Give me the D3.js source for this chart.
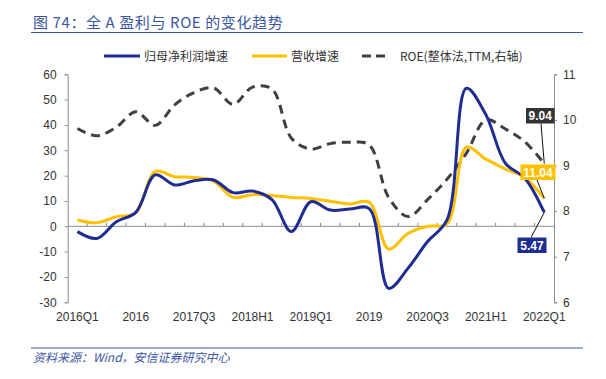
<!DOCTYPE html>
<html><head><meta charset="utf-8">
<script src="https://cdn.jsdelivr.net/npm/d3@7"></script>
<style>
html,body{margin:0;padding:0;background:#fff;}
svg{display:block;}
</style></head>
<body><svg id="c" width="606" height="379"></svg>
<script>
const categories = ["2016Q1","2016Q2","2016Q3","2016Q4","2017Q1","2017Q2","2017Q3","2017Q4","2018Q1","2018Q2","2018Q3","2018Q4","2019Q1","2019Q2","2019Q3","2019Q4","2020Q1","2020Q2","2020Q3","2020Q4","2021Q1","2021Q2","2021Q3","2021Q4","2022Q1"];
const xTickLabels = ["2016Q1","","","2016","","","2017Q3","","","2018H1","","","2019Q1","","","2019","","","2020Q3","","","2021H1","","","2022Q1"];
const profitGrowth = [-2.1,-4.8,1.8,5.5,20.3,16.3,18.0,18.3,13.3,13.9,10.5,-2.1,9.7,6.4,6.8,7.0,-24.5,-16.5,-6.0,2.5,54.5,44.0,24.9,19.0,5.47];
const revenueGrowth = [2.5,1.4,3.8,5.3,21.6,19.6,19.3,17.8,11.4,12.5,12.2,11.4,11.0,9.9,8.8,9.5,-9.0,-2.8,0.0,1.0,31.2,26.5,22.6,19.3,11.04];
const roe = [9.81,9.65,9.84,10.18,9.88,10.33,10.6,10.7,10.34,10.72,10.68,9.6,9.36,9.48,9.51,9.45,8.3,7.88,8.25,8.7,9.27,10.0,9.8,9.52,9.04];
const leftTicks = [-30,-20,-10,0,10,20,30,40,50,60];
const rightTicks = [6,7,8,9,10,11];
const seriesNames = ["归母净利润增速","营收增速","ROE(整体法,TTM,右轴)"];
const titleText = "图 74：全 A 盈利与 ROE 的变化趋势";
const sourceText = "资料来源：Wind，安信证券研究中心";

const BLUE = "#1F2D93", YELLOW = "#FFC000", GREY = "#404040", AXIS = "#8c8c8c";
const svg = d3.select("#c");
const L = 67.7, R = 554, T = 74.3, B = 302.3;

const x = d3.scaleBand().domain(categories).range([L, R]).padding(0);
const cx = d => x(d) + x.bandwidth()/2;
const yL = d3.scaleLinear().domain([-30,60]).range([B, T]);
const yR = d3.scaleLinear().domain([6,11]).range([B, T]);
const fmt = d => String(d);

// title
svg.append("text").attr("x",33).attr("y",28).attr("fill","#3A56A5")
  .attr("font-family","'Noto Sans CJK SC','Liberation Sans',sans-serif").attr("font-size",15)
  .attr("letter-spacing","0.6px").text(titleText);
svg.append("line").attr("x1",31).attr("x2",583).attr("y1",32.5).attr("y2",32.5)
  .attr("stroke","#3A56A5").attr("stroke-width",1.2);

// legend
const lg = svg.append("g").attr("font-family","'Noto Sans CJK SC',sans-serif").attr("font-size",12).attr("fill","#333");
lg.append("line").attr("x1",104).attr("x2",140).attr("y1",56).attr("y2",56).attr("stroke",BLUE).attr("stroke-width",3);
lg.append("text").attr("x",144).attr("y",60.5).text(seriesNames[0]);
lg.append("line").attr("x1",252).attr("x2",287).attr("y1",56).attr("y2",56).attr("stroke",YELLOW).attr("stroke-width",3);
lg.append("text").attr("x",291).attr("y",60.5).text(seriesNames[1]);
lg.append("line").attr("x1",362).attr("x2",386).attr("y1",56).attr("y2",56).attr("stroke",GREY).attr("stroke-width",3).attr("stroke-dasharray","9,5");
lg.append("text").attr("x",400).attr("y",60.5).text(seriesNames[2]);

// left axis
const axL = svg.append("g").attr("transform",`translate(${L},0)`)
  .call(d3.axisLeft(yL).tickValues(leftTicks).tickFormat(fmt).tickSize(3).tickPadding(8));
axL.select(".domain").attr("stroke",AXIS);
axL.selectAll(".tick line").attr("stroke",AXIS);
axL.selectAll("text").attr("font-family","'Liberation Sans',Arial,sans-serif").attr("font-size",12).attr("fill","#333");

// right axis
const axR = svg.append("g").attr("transform",`translate(${R},0)`)
  .call(d3.axisRight(yR).tickValues(rightTicks).tickFormat(fmt).tickSize(3).tickPadding(6));
axR.select(".domain").attr("stroke",AXIS);
axR.selectAll(".tick line").attr("stroke",AXIS);
axR.selectAll("text").attr("font-family","'Liberation Sans',Arial,sans-serif").attr("font-size",12).attr("fill","#333");

// x axis line at zero with inward ticks between categories
const y0 = yL(0);
svg.append("line").attr("x1",L).attr("x2",R).attr("y1",y0).attr("y2",y0).attr("stroke",AXIS).attr("stroke-width",1);
svg.append("g").selectAll("line").data(categories.slice(1)).join("line")
  .attr("x1",d=>x(d)).attr("x2",d=>x(d)).attr("y1",y0).attr("y2",y0-3.5).attr("stroke",AXIS);
// x labels at bottom
svg.append("g").selectAll("text").data(categories).join("text")
  .attr("x",d=>cx(d)).attr("y",321).attr("text-anchor","middle")
  .attr("font-family","'Liberation Sans',Arial,sans-serif").attr("font-size",12).attr("fill","#333")
  .text((d,i)=>xTickLabels[i]);

const curve = d3.curveCatmullRom.alpha(0.5);
const lineL = d3.line().x((d,i)=>cx(categories[i])).y(d=>yL(d)).curve(curve);
const lineR = d3.line().x((d,i)=>cx(categories[i])).y(d=>yR(d)).curve(curve);

svg.append("path").attr("d",lineR(roe)).attr("fill","none").attr("stroke",GREY).attr("stroke-width",3).attr("stroke-dasharray","9,6");
svg.append("path").attr("d",lineL(revenueGrowth)).attr("fill","none").attr("stroke",YELLOW).attr("stroke-width",3);
svg.append("path").attr("d",lineL(profitGrowth)).attr("fill","none").attr("stroke",BLUE).attr("stroke-width",3);

// end labels
const last = categories.length-1, lx = cx(categories[last]);
const labels = [
  {v:roe[last], py:yR(roe[last]), bx:526, by:108, w:28.5, h:15.5, fill:"#333333", anchorX:541, anchorY:123.5},
  {v:revenueGrowth[last], py:yL(revenueGrowth[last]), bx:520.5, by:164.5, w:35, h:15.5, fill:YELLOW, anchorX:537, anchorY:180},
  {v:profitGrowth[last], py:yL(profitGrowth[last]), bx:517.5, by:237.5, w:29, h:15.5, fill:BLUE, anchorX:531, anchorY:237.5}
];
labels.forEach(l=>{
  svg.append("line").attr("x1",lx).attr("y1",l.py).attr("x2",l.anchorX).attr("y2",l.anchorY).attr("stroke","#111").attr("stroke-width",1);
});
labels.forEach(l=>{
  svg.append("rect").attr("x",l.bx).attr("y",l.by).attr("width",l.w).attr("height",l.h).attr("fill",l.fill);
  svg.append("text").attr("x",l.bx+l.w/2).attr("y",l.by+l.h/2+4.3).attr("text-anchor","middle")
    .attr("font-family","'Liberation Sans',Arial,sans-serif").attr("font-weight","bold").attr("font-size",12).attr("fill","#fff")
    .text(d3.format(".2f")(l.v));
});

// source
svg.append("line").attr("x1",31).attr("x2",583).attr("y1",348).attr("y2",348).attr("stroke","#3A56A5").attr("stroke-width",1.2);
svg.append("text").attr("x",33).attr("y",362).attr("fill","#3A56A5")
  .attr("font-family","'Noto Sans CJK SC',sans-serif").attr("font-size",12).attr("font-style","italic").text(sourceText);
</script></body></html>
